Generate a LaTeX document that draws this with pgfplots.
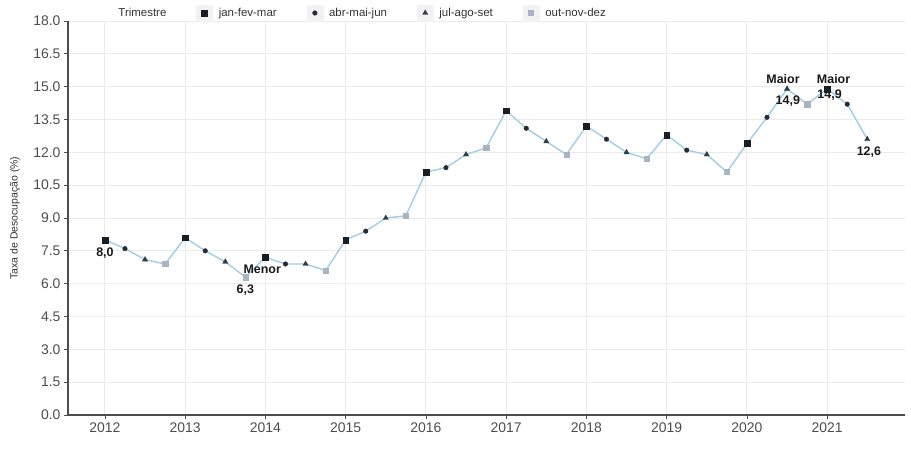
\documentclass[border=0pt]{standalone}
\usepackage{pgfplots}
\pgfplotsset{compat=1.18}
\usepackage{pgfplotstable}
\usepackage{fontspec}
\setmainfont{Liberation Sans}
\definecolor{axisgray}{HTML}{4D4D4D}
\definecolor{gridgray}{HTML}{EBEBEB}
\definecolor{linecol}{RGB}{160,205,232}
\definecolor{qa}{HTML}{1A1E24}
\definecolor{qb}{HTML}{262C35}
\definecolor{qc}{HTML}{333B46}
\definecolor{qd}{HTML}{A9B4C2}
% all quarters, in order (line)
\pgfplotstableread{
x y
2012.00 8.0
2012.25 7.6
2012.50 7.1
2012.75 6.9
2013.00 8.1
2013.25 7.5
2013.50 7.0
2013.75 6.3
2014.00 7.2
2014.25 6.9
2014.50 6.9
2014.75 6.6
2015.00 8.0
2015.25 8.4
2015.50 9.0
2015.75 9.1
2016.00 11.1
2016.25 11.3
2016.50 11.9
2016.75 12.2
2017.00 13.9
2017.25 13.1
2017.50 12.5
2017.75 11.9
2018.00 13.2
2018.25 12.6
2018.50 12.0
2018.75 11.7
2019.00 12.8
2019.25 12.1
2019.50 11.9
2019.75 11.1
2020.00 12.4
2020.25 13.6
2020.50 14.9
2020.75 14.2
2021.00 14.9
2021.25 14.2
2021.50 12.6
}\datatable
% jan-fev-mar
\pgfplotstableread{
x y
2012.00 8.0
2013.00 8.1
2014.00 7.2
2015.00 8.0
2016.00 11.1
2017.00 13.9
2018.00 13.2
2019.00 12.8
2020.00 12.4
2021.00 14.9
}\qone
% abr-mai-jun
\pgfplotstableread{
x y
2012.25 7.6
2013.25 7.5
2014.25 6.9
2015.25 8.4
2016.25 11.3
2017.25 13.1
2018.25 12.6
2019.25 12.1
2020.25 13.6
2021.25 14.2
}\qtwo
% jul-ago-set
\pgfplotstableread{
x y
2012.50 7.1
2013.50 7.0
2014.50 6.9
2015.50 9.0
2016.50 11.9
2017.50 12.5
2018.50 12.0
2019.50 11.9
2020.50 14.9
2021.50 12.6
}\qthree
% out-nov-dez
\pgfplotstableread{
x y
2012.75 6.9
2013.75 6.3
2014.75 6.6
2015.75 9.1
2016.75 12.2
2017.75 11.9
2018.75 11.7
2019.75 11.1
2020.75 14.2
}\qfour
\begin{document}
\begin{tikzpicture}
\begin{axis}[
  scale only axis, width=837bp, height=394bp,
  xmin=2011.54, xmax=2021.97, ymin=0, ymax=18,
  axis x line*=bottom, axis y line*=left,
  axis line style={axisgray, line width=1.3bp},
  xtick={2012,2013,2014,2015,2016,2017,2018,2019,2020,2021},
  ytick={0,1.5,3,4.5,6,7.5,9,10.5,12,13.5,15,16.5,18},
  grid=major, major grid style={gridgray, line width=0.9bp},
  tick align=outside, major tick length=4bp,
  tick style={axisgray, line width=0.8bp},
  /pgf/number format/assume math mode=true,
  ticklabel style={font=\fontsize{14}{16}\selectfont, text=axisgray},
  yticklabel style={/pgf/number format/.cd, fixed, fixed zerofill, precision=1},
  xticklabel style={/pgf/number format/1000 sep=},
  ylabel={Taxa de Desocupação (\%)},
  ylabel style={font=\fontsize{10.5}{12}\selectfont, text=black!80, at={(axis description cs:-0.0633,0.5)}, anchor=center},
  legend columns=-1,
  legend style={draw=none, fill=none, font=\fontsize{11.5}{13}\selectfont, text=black!80,
    at={(axis description cs:0.349,1)}, anchor=center, yshift=8bp,
    /tikz/every odd column/.append style={column sep=4bp},
    /tikz/every even column/.append style={column sep=28bp}},
  legend image code/.code={\fill[black!5] (0.3cm-8bp,-8bp) rectangle (0.3cm+8bp,8bp);
    \draw[mark repeat=2,mark phase=2,#1] plot coordinates {(0cm,0cm)(0.3cm,0cm)(0.6cm,0cm)};},
  clip=false,
]
\addplot[linecol, line width=1.4bp, forget plot] table[x=x,y=y] {\datatable};
\addlegendimage{empty legend}\addlegendentry{Trimestre}
\addplot[only marks, mark=square*, mark size=2.9bp, color=qa] table[x=x,y=y] {\qone};
\addlegendentry{jan-fev-mar}
\addplot[only marks, mark=*, mark size=2.3bp, color=qb] table[x=x,y=y] {\qtwo};
\addlegendentry{abr-mai-jun}
\addplot[only marks, mark=triangle*, mark size=3bp, color=qc] table[x=x,y=y] {\qthree};
\addlegendentry{jul-ago-set}
\addplot[only marks, mark=square*, mark size=2.6bp, color=qd] table[x=x,y=y] {\qfour};
\addlegendentry{out-nov-dez}
\begin{scope}[every node/.style={font=\bfseries\fontsize{12.5}{14}\selectfont, text=black!90, inner sep=0pt}]
\node at (axis cs:2012,7.4) {8,0};
\node at (axis cs:2013.96,6.67) {Menor};
\node at (axis cs:2013.75,5.7) {6,3};
\node at (axis cs:2020.45,15.34) {Maior};
\node at (axis cs:2020.51,14.34) {14,9};
\node at (axis cs:2021.08,15.34) {Maior};
\node at (axis cs:2021.03,14.6) {14,9};
\node at (axis cs:2021.52,12.0) {12,6};
\end{scope}
\end{axis}
\pgfresetboundingbox
\path ([xshift=-68bp,yshift=-36bp]current axis.south west) rectangle ([xshift=6bp,yshift=21bp]current axis.north east);
\end{tikzpicture}
\end{document}
